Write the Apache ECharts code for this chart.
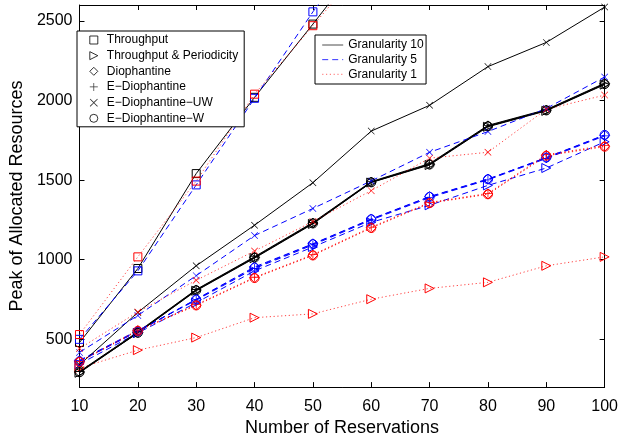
<!DOCTYPE html>
<html>
<head>
<meta charset="utf-8">
<script src="https://cdn.jsdelivr.net/npm/echarts@6/dist/echarts.min.js"></script>
<style>
  html, body { margin: 0; padding: 0; background: #fff; }
  #chart { width: 621px; height: 442px; }
</style>
</head>
<body>
<div id="chart"></div>
<script>
// x values (number of reservations)
const reservations = [10, 20, 30, 40, 50, 60, 70, 80, 90, 100];
// Throughput grows fastest and leaves the plotted range after 50
const throughputReservations = [10, 20, 30, 40, 50, 60];

// Peak of allocated resources, one array per algorithm and granularity
const throughputG10 = [480, 945, 1541, 2020, 2480, 2950];
const throughputG5  = [500, 930, 1470, 2014, 2557, 3050];
const throughputG1  = [530, 1018, 1494, 2040, 2470, 2900];

const periodicityG10 = [290, 540, 805, 1010, 1225, 1485, 1595, 1835, 1935, 2100];
const periodicityG5  = [345, 540, 730, 930, 1080, 1235, 1342, 1467, 1576, 1741];
const periodicityG1  = [320, 432, 511, 636, 660, 752, 820, 858, 962, 1018];

const diophantineG10 = [295, 543, 810, 1015, 1230, 1488, 1600, 1840, 1940, 2105];
const diophantineG5  = [365, 552, 752, 955, 1100, 1256, 1397, 1507, 1640, 1782];
const diophantineG1  = [360, 555, 715, 887, 1029, 1201, 1357, 1413, 1656, 1713];

const eDiophantineG10 = [298, 547, 813, 1019, 1234, 1491, 1604, 1844, 1943, 2109];
const eDiophantineG5  = [368, 556, 746, 945, 1093, 1250, 1390, 1502, 1636, 1778];
const eDiophantineG1  = [362, 558, 718, 890, 1032, 1205, 1360, 1417, 1660, 1718];

const eDiophantineUWG10 = [340, 669, 962, 1217, 1484, 1808, 1970, 2213, 2365, 2587];
const eDiophantineUWG5  = [418, 650, 900, 1152, 1322, 1495, 1675, 1805, 1950, 2148];
const eDiophantineUWG1  = [442, 672, 871, 1055, 1240, 1434, 1638, 1675, 1945, 2034];

const eDiophantineWG10 = [293, 541, 808, 1013, 1228, 1486, 1598, 1838, 1938, 2103];
const eDiophantineWG5  = [362, 550, 750, 950, 1098, 1254, 1395, 1505, 1642, 1784];
const eDiophantineWG1  = [358, 553, 713, 885, 1027, 1199, 1355, 1411, 1653, 1710];

const yTicks = [500, 1000, 1500, 2000, 2500];

const algorithmNames = ['Throughput', 'Throughput & Periodicity', 'Diophantine',
  'E\u2212Diophantine', 'E\u2212Diophantine\u2212UW', 'E\u2212Diophantine\u2212W'];
const granularityNames = ['Granularity 10', 'Granularity 5', 'Granularity 1'];

// marker shapes
const PLUS = 'path://M4.55,0H5.45V4.55H10V5.45H5.45V10H4.55V5.45H0V4.55H4.55Z';
const CROSS = 'path://M0,0.65L0.65,0L5,4.35L9.35,0L10,0.65L5.65,5L10,9.35L9.35,10L5,5.65L0.65,10L0,9.35L4.35,5Z';
const TRI_RIGHT = 'path://M0,0L10,5L0,10Z';

const algorithms = [
  { name: algorithmNames[0], symbol: 'rect', size: 8, hollow: true, x: throughputReservations,
    values: [throughputG10, throughputG5, throughputG1] },
  { name: algorithmNames[1], symbol: TRI_RIGHT, size: 9, hollow: true, x: reservations,
    values: [periodicityG10, periodicityG5, periodicityG1] },
  { name: algorithmNames[2], symbol: 'diamond', size: 10, hollow: true, x: reservations,
    values: [diophantineG10, diophantineG5, diophantineG1] },
  { name: algorithmNames[3], symbol: PLUS, size: 9, hollow: false, x: reservations,
    values: [eDiophantineG10, eDiophantineG5, eDiophantineG1] },
  { name: algorithmNames[4], symbol: CROSS, size: 7, hollow: false, x: reservations,
    values: [eDiophantineUWG10, eDiophantineUWG5, eDiophantineUWG1] },
  { name: algorithmNames[5], symbol: 'circle', size: 9, hollow: true, x: reservations,
    values: [eDiophantineWG10, eDiophantineWG5, eDiophantineWG1] }
];

const granularityStyles = [
  { color: '#000000', type: 'solid', opacity: 1 },
  { color: '#0000ff', type: [6, 4], opacity: 1 },
  { color: '#ff0000', type: [1.2, 2.6], opacity: 0.75 }
];

const FONT = '"Liberation Sans", Arial, Helvetica, sans-serif';
const CLEAR = 'rgba(0,0,0,0)';

function markerStyle(color, hollow) {
  return hollow
    ? { color: CLEAR, borderColor: color, borderWidth: 1 }
    : { color: color, borderColor: CLEAR, borderWidth: 0 };
}

const series = [];
algorithms.forEach(function (alg) {
  alg.values.forEach(function (vals, g) {
    const st = granularityStyles[g];
    series.push({
      type: 'line',
      name: alg.name + ' / ' + granularityNames[g],
      data: alg.x.map(function (x, i) { return [x, vals[i]]; }),
      symbol: alg.symbol,
      symbolSize: alg.size,
      showAllSymbol: true,
      clip: true,
      lineStyle: { color: st.color, type: st.type, width: 1, opacity: st.opacity },
      itemStyle: markerStyle(st.color, alg.hollow),
      emphasis: { disabled: true },
      silent: true,
      z: 2
    });
  });
});

// legend entries: markers (black) and line styles
algorithms.forEach(function (alg) {
  series.push({
    type: 'scatter', name: alg.name, data: [],
    symbol: alg.symbol,
    itemStyle: markerStyle('#000000', alg.hollow)
  });
});
granularityStyles.forEach(function (st, g) {
  series.push({
    type: 'line', name: granularityNames[g], data: [], symbol: 'none',
    lineStyle: { color: st.color, type: st.type, width: 1, opacity: st.opacity },
    itemStyle: { color: CLEAR, borderColor: CLEAR, borderWidth: 0, opacity: 0 }
  });
});

const markerLegendData = algorithms.map(function (alg) {
  return { name: alg.name, itemStyle: markerStyle('#000000', alg.hollow) };
});
const lineLegendData = granularityNames.map(function (n, g) {
  const st = granularityStyles[g];
  return {
    name: n,
    itemStyle: { color: CLEAR, borderColor: CLEAR, borderWidth: 0, opacity: 0 },
    lineStyle: { color: st.color, type: st.type, width: 1, opacity: g === 0 ? 0.7 : st.opacity * 0.8 }
  };
});

const tickCommon = { show: true, inside: true, length: 5, lineStyle: { color: '#000', width: 1 } };
const lineCommon = { show: true, onZero: false, lineStyle: { color: '#000', width: 1 } };
const plain = function (v) { return String(v); };

const option = {
  animation: false,
  backgroundColor: '#ffffff',
  grid: { left: 71, right: 14, top: 5, bottom: 43, containLabel: false },
  xAxis: [
    {
      type: 'value', position: 'bottom', min: 10, max: 100, interval: 10,
      axisLine: lineCommon, axisTick: tickCommon, splitLine: { show: false },
      axisLabel: { color: '#000', fontSize: 16, fontFamily: FONT, margin: 11, formatter: plain },
      name: 'Number of Reservations', nameLocation: 'middle', nameGap: 27,
      nameTextStyle: { color: '#000', fontSize: 18, fontFamily: FONT }
    },
    {
      type: 'value', position: 'top', min: 10, max: 100, interval: 10,
      axisLine: lineCommon, axisTick: tickCommon, splitLine: { show: false },
      axisLabel: { show: false }
    }
  ],
  yAxis: [
    {
      type: 'value', position: 'left', min: 200, max: 2600,
      axisLine: lineCommon,
      axisTick: Object.assign({ customValues: yTicks }, tickCommon),
      splitLine: { show: false },
      axisLabel: { color: '#000', fontSize: 16, fontFamily: FONT, margin: 7,
        customValues: yTicks, formatter: plain },
      name: 'Peak of Allocated Resources', nameLocation: 'middle', nameGap: 46,
      nameTextStyle: { color: '#000', fontSize: 18, fontFamily: FONT }
    },
    {
      type: 'value', position: 'right', min: 200, max: 2600,
      axisLine: lineCommon,
      axisTick: Object.assign({ customValues: yTicks }, tickCommon),
      splitLine: { show: false },
      axisLabel: { show: false, customValues: yTicks }
    }
  ],
  legend: [
    {
      data: markerLegendData, orient: 'vertical', left: 77, top: 31,
      itemWidth: 8, itemHeight: 8, itemGap: 3.66,
      padding: [3, 6, 2.5, 12.3],
      backgroundColor: '#ffffff', borderColor: '#000000', borderWidth: 1, borderRadius: 0,
      selectedMode: false,
      textStyle: { color: '#000', fontSize: 12, fontFamily: FONT, lineHeight: 12, padding: [0, 0, 0, 4] },
      z: 10
    },
    {
      data: lineLegendData, orient: 'vertical', left: 315, top: 35,
      itemWidth: 21, itemHeight: 10, itemGap: 2.65,
      padding: [4, 2.5, 3.7, 6.7],
      backgroundColor: '#ffffff', borderColor: '#000000', borderWidth: 1, borderRadius: 0,
      selectedMode: false,
      itemStyle: { color: CLEAR, borderColor: CLEAR, borderWidth: 0, opacity: 0 },
      lineStyle: { width: 1 },
      textStyle: { color: '#000', fontSize: 12, fontFamily: FONT, lineHeight: 12 },
      z: 10
    }
  ],
  series: series
};

const chart = echarts.init(document.getElementById('chart'), null, { renderer: 'canvas' });
chart.setOption(option);
</script>
</body>
</html>
